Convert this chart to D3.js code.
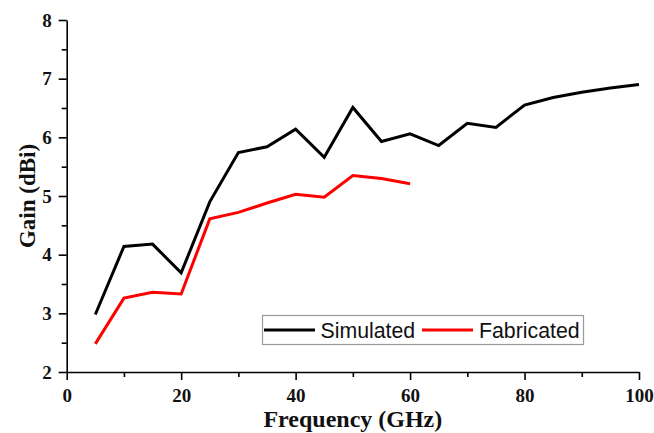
<!DOCTYPE html>
<html>
<head>
<meta charset="utf-8">
<script src="https://cdn.jsdelivr.net/npm/d3@7"></script>
<style>
body { margin: 0; background: #fff; }
svg { display: block; }
</style>
</head>
<body>
<svg id="chart" width="654" height="433"></svg>
<script>
const simFreq = [5, 10, 15, 20, 25, 30, 35, 40, 45, 50, 55, 60, 65, 70, 75, 80, 85, 90, 95, 100];
const simGain = [2.98, 4.14, 4.18, 3.69, 4.90, 5.74, 5.84, 6.14, 5.66, 6.51, 5.93, 6.06, 5.86, 6.24, 6.17, 6.55, 6.68, 6.77, 6.84, 6.90];
const fabFreq = [5, 10, 15, 20, 25, 30, 35, 40, 45, 50, 55, 60];
const fabGain = [2.48, 3.26, 3.36, 3.33, 4.61, 4.72, 4.88, 5.03, 4.98, 5.35, 5.30, 5.21];
const xTicks = [0, 20, 40, 60, 80, 100];
const yTicks = [2, 3, 4, 5, 6, 7, 8];
const seriesNames = ["Simulated", "Fabricated"];
const seriesColors = ["#000000", "#ff0000"];

const svg = d3.select("#chart");
const m = {left: 66.7, right: 654 - 639, top: 20, bottom: 433 - 372};
const W = 654, H = 433;
const x = d3.scaleLinear().domain([0, 100]).range([m.left, W - m.right]);
const y = d3.scaleLinear().domain([2, 8]).range([H - m.bottom, m.top]);

const serif = "'Liberation Serif', 'Times New Roman', serif";
const sans = "'Liberation Sans', Arial, sans-serif";

const xMinor = d3.range(10, 100, 20);
const yMinor = d3.range(2.5, 8, 1);

svg.append("g").attr("transform", `translate(0,${y(2)})`)
  .call(d3.axisBottom(x).tickValues(xTicks).tickFormat(d3.format("d")).tickSize(8).tickPadding(9).tickSizeOuter(0));
svg.append("g").attr("transform", `translate(0,${y(2)})`)
  .call(d3.axisBottom(x).tickValues(xMinor).tickSize(5).tickFormat("").tickSizeOuter(0))
  .select(".domain").remove();
svg.append("g").attr("transform", `translate(${x(0)},0)`)
  .call(d3.axisLeft(y).tickValues(yTicks).tickFormat(d3.format("d")).tickSize(8).tickPadding(7).tickSizeOuter(0));
svg.append("g").attr("transform", `translate(${x(0)},0)`)
  .call(d3.axisLeft(y).tickValues(yMinor).tickSize(5).tickFormat("").tickSizeOuter(0))
  .select(".domain").remove();

svg.selectAll(".domain").attr("stroke", "#000").attr("stroke-width", 1.6);
svg.selectAll(".tick line").attr("stroke", "#000").attr("stroke-width", 1.6);
svg.selectAll(".tick text").attr("font-family", serif).attr("font-weight", "bold")
  .attr("font-size", 19).attr("fill", "#111");

svg.append("text").attr("x", (x(0) + x(100)) / 2).attr("y", 427)
  .attr("text-anchor", "middle").attr("font-family", serif).attr("font-weight", "bold")
  .attr("font-size", 24).attr("fill", "#111").text("Frequency (GHz)");
svg.append("text").attr("transform", `translate(35,${(y(2) + y(8)) / 2}) rotate(-90)`)
  .attr("text-anchor", "middle").attr("font-family", serif).attr("font-weight", "bold")
  .attr("font-size", 23).attr("fill", "#111").text("Gain (dBi)");

const line = d3.line().x(d => x(d[0])).y(d => y(d[1]));
const series = [
  d3.zip(simFreq, simGain),
  d3.zip(fabFreq, fabGain)
];
series.forEach((s, i) => {
  svg.append("path").datum(s).attr("d", line).attr("fill", "none")
    .attr("stroke", seriesColors[i]).attr("stroke-width", 3).attr("stroke-linejoin", "miter");
});

const lg = svg.append("g");
lg.append("rect").attr("x", 262.5).attr("y", 315.5).attr("width", 321).attr("height", 29)
  .attr("fill", "#fff").attr("stroke", "#999").attr("stroke-width", 1.2);
const legendItems = [
  {x1: 264, x2: 315, tx: 320.5},
  {x1: 422, x2: 473, tx: 479}
];
legendItems.forEach((it, i) => {
  lg.append("line").attr("x1", it.x1).attr("x2", it.x2).attr("y1", 330).attr("y2", 330)
    .attr("stroke", seriesColors[i]).attr("stroke-width", 3);
  lg.append("text").attr("x", it.tx).attr("y", 337.5).attr("font-family", sans)
    .attr("font-size", 21.3).attr("fill", "#111").text(seriesNames[i]);
});
</script>
</body>
</html>
